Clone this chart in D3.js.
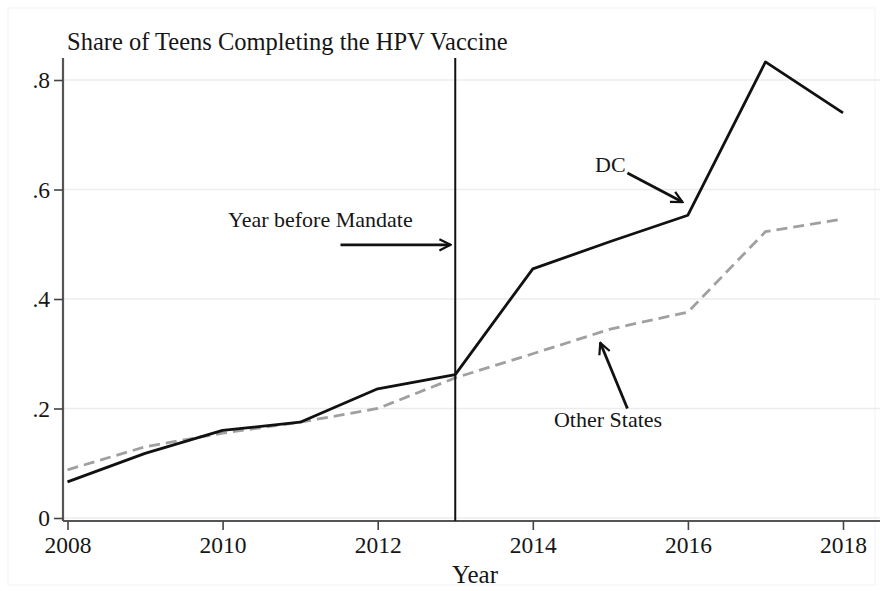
<!DOCTYPE html>
<html>
<head>
  <meta charset="utf-8">
  <title>HPV Vaccine</title>
  <style>
    body { margin: 0; background: #fff; }
    svg text { font-family: "Liberation Serif", "Times New Roman", serif; fill: #161616; }
    .grid line { stroke: #ececec; stroke-width: 1.5px; }
    .axis path { stroke: #555; stroke-width: 2.2px; }
    .axis line { stroke: #444; stroke-width: 1.6px; }
    .axis text { font-size: 23.5px; }
  </style>
</head>
<body>
  <svg id="chart"></svg>

  <script src="https://d3js.org/d3.v7.min.js"></script>
  <script>
    // data
    const years = [2008, 2009, 2010, 2011, 2012, 2013, 2014, 2015, 2016, 2017, 2018];
    const dc = [0.066, 0.118, 0.160, 0.175, 0.236, 0.262, 0.455, 0.505, 0.553, 0.833, 0.740];
    const otherStates = [0.088, 0.130, 0.155, 0.175, 0.200, 0.256, 0.300, 0.345, 0.376, 0.523, 0.546];
    const yTicks = [0, 0.2, 0.4, 0.6, 0.8];
    const xTicks = [2008, 2010, 2012, 2014, 2016, 2018];
    const mandateYear = 2013;

    // annotations (data coords)
    const labels = [
      { text: "Year before Mandate", x: 2011.26, y: 0.532 },
      { text: "DC", x: 2015.0, y: 0.632 },
      { text: "Other States", x: 2014.97, y: 0.166 }
    ];
    const arrows = [
      { x1: 2011.52, y1: 0.499, x2: 2012.94, y2: 0.499 },
      { x1: 2015.22, y1: 0.630, x2: 2015.93, y2: 0.577 },
      { x1: 2015.22, y1: 0.200, x2: 2014.87, y2: 0.320 }
    ];

    const W = 883, H = 591;
    const svg = d3.select("#chart").attr("width", W).attr("height", H);

    const pLeft = 63, pRight = 880, pTop = 58, pBottom = 521;

    const x = d3.scaleLinear().domain([2008, 2018]).range([67.5, 843]);
    const y = d3.scaleLinear().domain([0, 0.8]).range([518, 80]);

    // faint frame
    svg.append("rect").attr("x", 8).attr("y", 8).attr("width", W - 16).attr("height", H - 14)
      .attr("fill", "none").attr("stroke", "#f7f7f7").attr("stroke-width", 1.5);

    // grid
    svg.append("g").attr("class", "grid")
      .selectAll("line").data(yTicks).enter().append("line")
      .attr("x1", pLeft).attr("x2", pRight)
      .attr("y1", d => y(d)).attr("y2", d => y(d));

    // y axis
    const yAxis = svg.append("g").attr("class", "axis")
      .attr("transform", `translate(${pLeft},0)`)
      .call(d3.axisLeft(y).tickValues(yTicks).tickSize(9).tickPadding(4)
        .tickFormat(d => d === 0 ? "0" : d3.format(".1f")(d).replace(/^0/, "")));
    yAxis.select(".domain").attr("d", `M0,${pTop}V${pBottom}`);

    // x axis
    const xAxis = svg.append("g").attr("class", "axis")
      .attr("transform", `translate(0,${pBottom})`)
      .call(d3.axisBottom(x).tickValues(xTicks).tickSize(9).tickPadding(6).tickFormat(d3.format("d")));
    xAxis.select(".domain").attr("d", `M${pLeft},0H${pRight}`);

    svg.append("text").attr("x", pLeft + 4).attr("y", 50)
      .style("font-size", "24.5px").text("Share of Teens Completing the HPV Vaccine");

    svg.append("text").attr("x", 475).attr("y", 583).attr("text-anchor", "middle")
      .style("font-size", "25px").text("Year");

    // lines
    const line = d3.line().x((d, i) => x(years[i])).y(d => y(d));

    svg.append("path").datum(otherStates)
      .attr("fill", "none").attr("stroke", "#a0a0a0").attr("stroke-width", 2.8)
      .attr("stroke-dasharray", "11,6").attr("d", line);

    svg.append("path").datum(dc)
      .attr("fill", "none").attr("stroke", "#111").attr("stroke-width", 2.8)
      .attr("stroke-linejoin", "round").attr("d", line);

    // mandate line
    svg.append("line")
      .attr("x1", x(mandateYear)).attr("x2", x(mandateYear))
      .attr("y1", pTop).attr("y2", pBottom)
      .attr("stroke", "#111").attr("stroke-width", 2);

    // arrows
    svg.append("defs").append("marker")
      .attr("id", "head").attr("viewBox", "0 0 10 10").attr("refX", 9).attr("refY", 5)
      .attr("markerWidth", 5).attr("markerHeight", 5).attr("markerUnits", "strokeWidth")
      .attr("orient", "auto")
      .append("path").attr("d", "M1,1L9,5L1,9").attr("fill", "none")
      .attr("stroke", "#111").attr("stroke-width", 1.6);

    svg.selectAll(".arrow").data(arrows).enter().append("line")
      .attr("class", "arrow")
      .attr("x1", d => x(d.x1)).attr("y1", d => y(d.y1))
      .attr("x2", d => x(d.x2)).attr("y2", d => y(d.y2))
      .attr("stroke", "#111").attr("stroke-width", 2.8)
      .attr("marker-end", "url(#head)");

    svg.selectAll(".lab").data(labels).enter().append("text")
      .attr("class", "lab")
      .attr("x", d => x(d.x)).attr("y", d => y(d.y))
      .attr("text-anchor", "middle").style("font-size", "22px")
      .text(d => d.text);
  </script>
</body>
</html>
